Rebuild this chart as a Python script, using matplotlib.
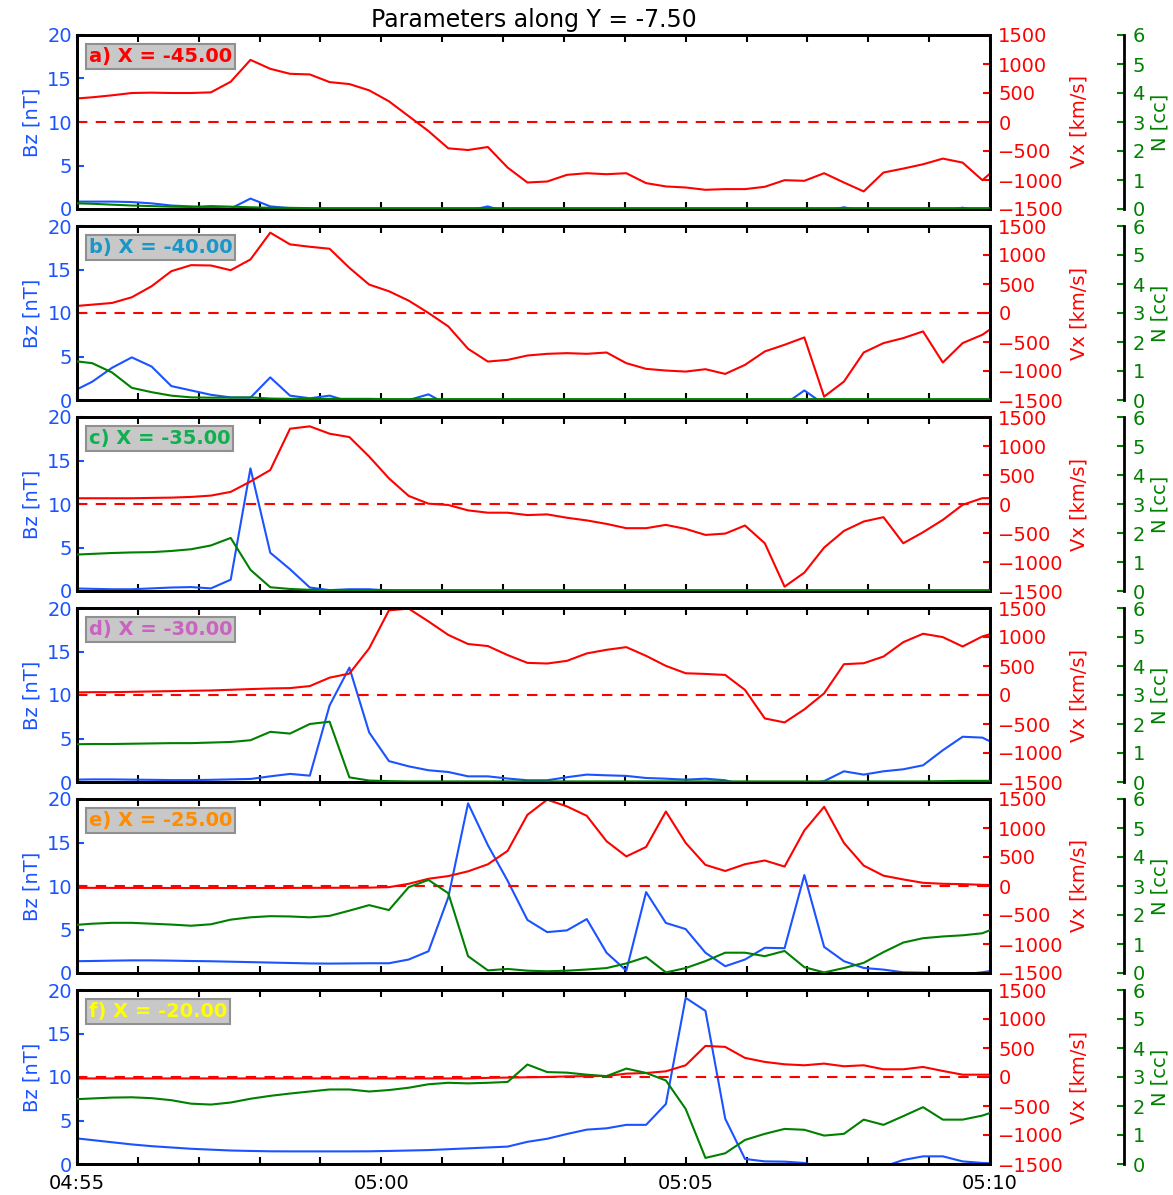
import numpy as np
import pandas as pd
import matplotlib
matplotlib.use('Agg')
import matplotlib.pyplot as plt
import matplotlib.dates as mdates
from matplotlib.ticker import FuncFormatter

plt.rcParams['font.family'] = 'DejaVu Sans'
plt.rcParams['font.size'] = 14
plt.rcParams['axes.linewidth'] = 2

# model output, one sample every 19.5 s
times = pd.date_range('2000-01-01 04:54:55.5', periods=48, freq='19500ms')

labels = ['a) X = -45.00', 'b) X = -40.00', 'c) X = -35.00',
          'd) X = -30.00', 'e) X = -25.00', 'f) X = -20.00']
label_colors = ['#ff0000', '#1a96c8', '#10b050', '#c864c0', '#ff8c00', '#ffff00']

# Bz [nT]
bz_a = [0.85, 0.85, 0.85, 0.8, 0.65, 0.4, 0.3, 0.15, 0.05, 1.2, 0.3, 0.1, 0.05, 0.0, -0.1, 0.0,
        -0.2, -0.3, -0.3, -0.3, -0.2, 0.3, -0.4, -0.5, -0.4, -0.3, -0.3, -0.3, -0.3, -0.3, -0.3, -0.3,
        -0.3, -0.3, -0.3, -0.3, -0.3, -0.3, -0.3, 0.2, -0.3, -0.3, -0.3, -0.2, -0.2, 0.15, -0.3, -0.2]
bz_b = [0.96, 2.1, 3.7, 4.9, 3.85, 1.6, 1.1, 0.6, 0.3, 0.27, 2.6, 0.5, 0.2, 0.5, -0.2, -0.4,
        -0.3, 0.0, 0.65, -0.6, -0.8, -0.5, -0.5, -0.5, -0.5, -0.5, -0.5, -0.5, -0.5, -0.5, -0.5, -0.5,
        -0.5, -0.5, -0.5, -0.5, -0.5, 1.1, -0.5, -0.5, -0.5, -0.5, -0.2, -0.5, -0.5, -0.5, -0.3, 0.0]
bz_c = [0.3, 0.25, 0.2, 0.2, 0.3, 0.4, 0.45, 0.3, 1.3, 14.1, 4.4, 2.5, 0.4, 0.1, 0.2, 0.2,
        0.05, -0.2, -0.2, -0.2, -0.2, -0.2, -0.2, -0.2, -0.2, -0.2, -0.2, -0.2, -0.2, -0.2, -0.2, -0.2,
        -0.2, -0.2, 0.0, -0.2, -0.2, -0.2, -0.2, -0.2, -0.2, 0.0, -0.2, -0.2, -0.2, -0.1, 0.0, 0.0]
bz_d = [0.27, 0.3, 0.3, 0.27, 0.25, 0.22, 0.22, 0.25, 0.3, 0.35, 0.65, 0.93, 0.73, 8.8, 13.15, 5.7,
        2.4, 1.8, 1.35, 1.15, 0.65, 0.65, 0.4, 0.2, 0.2, 0.55, 0.85, 0.77, 0.7, 0.46, 0.38, 0.27,
        0.38, 0.2, -0.4, -0.1, -0.1, -0.3, 0.1, 1.23, 0.85, 1.23, 1.46, 1.92, 3.65, 5.2, 5.1, 4.0]
bz_e = [1.35, 1.38, 1.42, 1.45, 1.45, 1.42, 1.38, 1.35, 1.3, 1.25, 1.2, 1.15, 1.1, 1.08, 1.1, 1.12,
        1.12, 1.55, 2.5, 8.7, 19.5, 14.7, 10.6, 6.1, 4.7, 4.9, 6.2, 2.33, 0.27, 9.3, 5.75, 5.05,
        2.33, 0.78, 1.55, 2.9, 2.85, 11.26, 3.0, 1.36, 0.58, 0.39, 0.08, 0.04, -0.1, -0.15, 0.08, 0.45]
bz_f = [3.0, 2.75, 2.5, 2.25, 2.05, 1.9, 1.75, 1.65, 1.55, 1.5, 1.46, 1.45, 1.45, 1.45, 1.45, 1.46,
        1.5, 1.55, 1.6, 1.7, 1.8, 1.9, 2.0, 2.55, 2.9, 3.45, 3.95, 4.1, 4.5, 4.5, 6.9, 19.1,
        17.6, 5.2, 0.58, 0.3, 0.27, 0.12, -0.4, -0.6, -0.6, -0.3, 0.46, 0.88, 0.88, 0.3, 0.12, 0.05]

# Vx [km/s]
vx_a = [400, 426, 460, 500, 506, 500, 500, 511, 694, 1071, 917, 831, 820, 688, 654, 546,
        357, 100, -157, -454, -483, -431, -786, -1043, -1026, -911, -883, -900, -883, -1054, -1111, -1129,
        -1169, -1157, -1157, -1117, -1003, -1014, -883, -1043, -1197, -871, -803, -729, -631, -700, -1003, -706]
vx_b = [115, 144, 173, 271, 461, 721, 825, 819, 738, 923, 1385, 1183, 1142, 1108, 779, 490,
        375, 213, 0, -231, -617, -837, -808, -733, -704, -692, -704, -681, -865, -963, -992, -1010,
        -969, -1050, -894, -663, -548, -421, -1442, -1183, -681, -519, -433, -317, -854, -519, -375, -140]
vx_c = [99, 99, 99, 99, 105, 110, 122, 145, 209, 388, 585, 1298, 1339, 1212, 1154, 818,
        442, 139, 6, -17, -110, -150, -150, -191, -179, -237, -283, -343, -417, -417, -360, -429,
        -533, -510, -371, -677, -1425, -1183, -751, -464, -302, -227, -677, -487, -274, -14, 101, 101]
vx_d = [44, 49, 49, 55, 61, 67, 73, 78, 90, 102, 113, 119, 154, 299, 369, 804,
        1460, 1489, 1268, 1036, 879, 844, 688, 554, 543, 589, 717, 779, 825, 675, 502, 375,
        363, 346, 87, -404, -473, -248, 29, 531, 548, 663, 911, 1056, 998, 836, 1010, 1108]
vx_e = [-32, -32, -33, -33, -34, -35, -35, -35, -35, -35, -34, -33, -32, -31, -30, -28,
        -20, 38, 125, 171, 253, 374, 606, 1227, 1489, 1372, 1210, 772, 510, 673, 1284, 743,
        364, 259, 376, 440, 335, 958, 1366, 743, 352, 178, 113, 55, 38, 32, 20, 15]
vx_f = [-25, -25, -25, -25, -25, -25, -25, -25, -25, -25, -25, -25, -25, -25, -25, -25,
        -25, -25, -25, -25, -25, -15, -10, -5, 0, 10, 15, 17, 58, 69, 98, 202,
        536, 519, 329, 260, 219, 202, 231, 185, 202, 133, 133, 173, 104, 40, 40, 40]

# N [cc]
n_a = [0.2, 0.18, 0.15, 0.12, 0.1, 0.08, 0.07, 0.1, 0.08, 0.06, 0.04, 0.04, 0.03, 0.03, 0.03, 0.03,
       0.03, 0.03, 0.03, 0.03, 0.03, 0.03, 0.03, 0.03, 0.03, 0.03, 0.03, 0.03, 0.03, 0.03, 0.03, 0.03,
       0.03, 0.03, 0.03, 0.03, 0.03, 0.03, 0.03, 0.03, 0.03, 0.03, 0.03, 0.03, 0.03, 0.03, 0.03, 0.03]
n_b = [1.35, 1.27, 0.95, 0.42, 0.27, 0.15, 0.09, 0.08, 0.08, 0.09, 0.05, 0.04, 0.04, 0.04, 0.04, 0.04,
       0.03, 0.03, 0.03, 0.03, 0.03, 0.03, 0.03, 0.03, 0.03, 0.03, 0.03, 0.03, 0.03, 0.03, 0.03, 0.03,
       0.03, 0.03, 0.03, 0.03, 0.03, 0.03, 0.03, 0.03, 0.03, 0.03, 0.03, 0.03, 0.03, 0.03, 0.03, 0.03]
n_c = [1.25, 1.28, 1.31, 1.33, 1.34, 1.38, 1.44, 1.57, 1.83, 0.73, 0.13, 0.07, 0.04, 0.03, 0.03, 0.03,
       0.03, 0.03, 0.03, 0.03, 0.03, 0.03, 0.03, 0.03, 0.03, 0.03, 0.03, 0.03, 0.03, 0.03, 0.03, 0.03,
       0.03, 0.03, 0.03, 0.03, 0.03, 0.03, 0.03, 0.03, 0.03, 0.03, 0.03, 0.03, 0.03, 0.03, 0.03, 0.03]
n_d = [1.3, 1.31, 1.31, 1.32, 1.33, 1.34, 1.34, 1.36, 1.38, 1.44, 1.73, 1.67, 2.0, 2.08, 0.16, 0.05,
       0.03, 0.02, 0.02, 0.02, 0.02, 0.02, 0.02, 0.02, 0.02, 0.02, 0.02, 0.02, 0.02, 0.02, 0.02, 0.02,
       0.02, 0.02, 0.02, 0.02, 0.02, 0.02, 0.02, 0.02, 0.02, 0.02, 0.02, 0.02, 0.03, 0.04, 0.04, 0.04]
n_e = [1.65, 1.7, 1.73, 1.73, 1.7, 1.67, 1.63, 1.68, 1.84, 1.92, 1.96, 1.95, 1.92, 1.97, 2.15, 2.34,
       2.17, 2.96, 3.21, 2.75, 0.58, 0.09, 0.14, 0.08, 0.06, 0.08, 0.12, 0.17, 0.33, 0.55, 0.02, 0.17,
       0.41, 0.7, 0.7, 0.58, 0.76, 0.2, 0.02, 0.17, 0.35, 0.72, 1.05, 1.2, 1.26, 1.3, 1.37, 1.65]
n_f = [2.23, 2.26, 2.29, 2.3, 2.27, 2.2, 2.08, 2.05, 2.12, 2.25, 2.35, 2.43, 2.5, 2.57, 2.57, 2.5,
       2.55, 2.63, 2.75, 2.8, 2.78, 2.8, 2.83, 3.43, 3.17, 3.15, 3.08, 3.03, 3.29, 3.14, 2.88, 1.9,
       0.21, 0.37, 0.83, 1.04, 1.21, 1.18, 0.98, 1.04, 1.53, 1.35, 1.65, 1.96, 1.53, 1.53, 1.67, 1.9]

bz_all = [bz_a, bz_b, bz_c, bz_d, bz_e, bz_f]
vx_all = [vx_a, vx_b, vx_c, vx_d, vx_e, vx_f]
n_all = [n_a, n_b, n_c, n_d, n_e, n_f]

blue = '#1a53ff'
red = '#ff0000'
green = '#008000'

t_start = pd.Timestamp('2000-01-01 04:55')
t_end = pd.Timestamp('2000-01-01 05:10')


def time_fmt(x, pos):
    d = mdates.num2date(x)
    if d.minute % 5 == 0:
        return d.strftime('%H:%M')
    return ''


def draw_panel(ax, bz, vx, n, label, lcolor, bottom):
    ax.plot(times, bz, color=blue, lw=1.5)
    ax.set_ylim(0, 20)
    ax.set_yticks([0, 5, 10, 15, 20])
    ax.set_ylabel('Bz [nT]', color=blue, fontsize=14)
    ax.tick_params(axis='y', colors=blue, direction='in', length=5, width=1.5, labelsize=14)
    ax.set_xlim(t_start, t_end)
    ax.xaxis.set_major_locator(mdates.MinuteLocator(interval=1))
    ax.tick_params(axis='x', direction='in', length=5, width=1.5, top=True, labelsize=14, pad=7)
    if bottom:
        ax.xaxis.set_major_formatter(FuncFormatter(time_fmt))
    else:
        ax.tick_params(axis='x', labelbottom=False)

    ax2 = ax.twinx()
    ax2.plot(times, vx, color=red, lw=1.5)
    ax2.axhline(0, color=red, ls='--', dashes=(5, 4), lw=1.5)
    ax2.set_ylim(-1500, 1500)
    ax2.set_yticks(np.arange(-1500, 1501, 500))
    ax2.set_ylabel('Vx [km/s]', color=red, fontsize=14)
    ax2.tick_params(axis='y', colors=red, direction='in', length=5, width=1.5, labelsize=14, pad=6)
    ax2.set_xlim(t_start, t_end)

    ax3 = ax.twinx()
    ax3.spines['right'].set_position(('axes', 1.147))
    for s in ['top', 'left', 'bottom']:
        ax3.spines[s].set_visible(False)
    ax3.plot(times, n, color=green, lw=1.5)
    ax3.set_ylim(0, 6)
    ax3.set_yticks(range(7))
    ax3.set_ylabel('N [cc]', color=green, fontsize=14)
    ax3.tick_params(axis='y', colors=green, direction='in', length=5, width=1.5, labelsize=14, pad=6)
    ax3.set_xlim(t_start, t_end)

    ax3.text(0.013, 0.875, label, transform=ax3.transAxes, color=lcolor,
             fontsize=14, fontweight='bold', ha='left', va='center', zorder=10,
             bbox=dict(boxstyle='square,pad=0.15', facecolor='#c8c8c8',
                       edgecolor='#909090', lw=1.5))
    return ax


fig = plt.figure(figsize=(11.73, 11.95), dpi=100)
left = 77 / 1173
width = 913 / 1173
height = 174 / 1195
step = 191 / 1195
bot0 = 1 - 1164 / 1195

for j in range(6):
    ax = fig.add_axes([left, bot0 + (5 - j) * step, width, height])
    draw_panel(ax, bz_all[j], vx_all[j], n_all[j], labels[j], label_colors[j], j == 5)
    if j == 0:
        ax.set_title('Parameters along Y = -7.50', fontsize=17, pad=6)

fig.savefig('out.png', dpi=100)
